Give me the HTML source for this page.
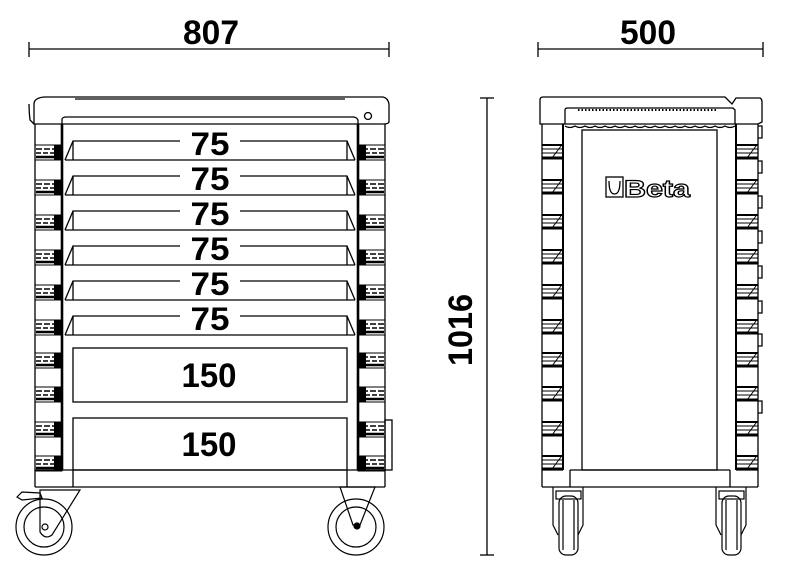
<!DOCTYPE html>
<html><head><meta charset="utf-8"><style>
html,body{margin:0;padding:0;background:#fff;width:800px;height:578px;overflow:hidden}
svg{display:block}
.t{font-family:"Liberation Sans",sans-serif;font-weight:bold;fill:#000}
</style></head><body>
<svg width="800" height="578" viewBox="0 0 800 578" xmlns="http://www.w3.org/2000/svg">
<defs>
 <g id="hl" stroke="#000" fill="none">
  <rect x="0" y="0" width="27" height="15" stroke-width="1"/>
  <line x1="1" y1="4" x2="27" y2="4" stroke-width="1.5" stroke-dasharray="6 2"/>
  <line x1="1" y1="8" x2="27" y2="8" stroke-width="1.5" stroke-dasharray="5 2"/>
  <line x1="1" y1="12" x2="27" y2="12" stroke-width="2.5"/>
  <rect x="19" y="0" width="8" height="15" fill="#000" stroke="none"/>
 </g>
 <g id="hr" transform="translate(27,0) scale(-1,1)"><use href="#hl"/></g>
 <g id="sl" stroke="#000" fill="none">
  <line x1="0" y1="0" x2="21" y2="0" stroke-width="2"/>
  <line x1="0" y1="4" x2="21" y2="4" stroke-width="1"/>
  <line x1="0" y1="8" x2="21" y2="8" stroke-width="1"/>
  <line x1="0" y1="13" x2="21" y2="13" stroke-width="3"/>
  <line x1="10" y1="13" x2="19" y2="1" stroke-width="1"/>
 </g>
</defs>

<g stroke="#000" stroke-width="1.3">
 <line x1="29" y1="49" x2="389" y2="49"/><line x1="29" y1="42" x2="29" y2="57"/><line x1="389" y1="42" x2="389" y2="57"/>
 <line x1="538" y1="49" x2="763" y2="49"/><line x1="538" y1="42" x2="538" y2="57"/><line x1="763" y1="42" x2="763" y2="57"/>
 <line x1="487" y1="98" x2="487" y2="555"/><line x1="480" y1="98" x2="494" y2="98"/><line x1="480" y1="555" x2="494" y2="555"/>
</g>
<text class="t" x="211" y="44" font-size="34" text-anchor="middle" textLength="56" lengthAdjust="spacingAndGlyphs">807</text>
<text class="t" x="648" y="44" font-size="34" text-anchor="middle" textLength="56" lengthAdjust="spacingAndGlyphs">500</text>
<text class="t" transform="translate(472,330) rotate(-90)" font-size="34" text-anchor="middle" textLength="72" lengthAdjust="spacingAndGlyphs">1016</text>

<g stroke="#000" fill="none" stroke-width="1.3">
 <path d="M34 124 L34 104 Q34 98 44 97 L383 97 Q388 98 389 104 L389 122 Q388 124 384 124 Z"/>
 <path d="M29 104 Q29 112 30 120 L34 124"/>
 <line x1="75" y1="99" x2="345" y2="99"/>
 <path d="M62 132 L62 119 Q63 117 66 117 L354 117 Q358 118 358 121 L358 132"/>
 <circle cx="368" cy="116" r="3.5"/>
 <line x1="35" y1="124" x2="35" y2="487" />
 <line x1="385" y1="124" x2="385" y2="487" />
 <line x1="62" y1="124" x2="62" y2="470" stroke-width="2.6"/>
 <line x1="358" y1="124" x2="358" y2="470" stroke-width="2.6"/>
 <line x1="35" y1="470" x2="385" y2="470"/>
 <line x1="35" y1="487" x2="385" y2="487"/>
 <line x1="73" y1="470" x2="73" y2="487"/>
 <line x1="347" y1="470" x2="347" y2="487"/>
 <rect x="385" y="420" width="7" height="50"/>
</g>
<g stroke="#000" fill="none" stroke-width="1.3">
 <path d="M65 160 L73 141 L180 141 M240 141 L347 141 L355 160 M65 160 L355 160"/>
 <path d="M65 195 L73 176 L180 176 M240 176 L347 176 L355 195 M65 195 L355 195"/>
 <path d="M65 230 L73 211 L180 211 M240 211 L347 211 L355 230 M65 230 L355 230"/>
 <path d="M65 265 L73 246 L180 246 M240 246 L347 246 L355 265 M65 265 L355 265"/>
 <path d="M65 300 L73 281 L180 281 M240 281 L347 281 L355 300 M65 300 L355 300"/>
 <path d="M65 335 L73 316 L180 316 M240 316 L347 316 L355 335 M65 335 L355 335"/>
 <line x1="73" y1="141" x2="73" y2="160"/><line x1="347" y1="141" x2="347" y2="160"/>
 <line x1="73" y1="176" x2="73" y2="195"/><line x1="347" y1="176" x2="347" y2="195"/>
 <line x1="73" y1="211" x2="73" y2="230"/><line x1="347" y1="211" x2="347" y2="230"/>
 <line x1="73" y1="246" x2="73" y2="265"/><line x1="347" y1="246" x2="347" y2="265"/>
 <line x1="73" y1="281" x2="73" y2="300"/><line x1="347" y1="281" x2="347" y2="300"/>
 <line x1="73" y1="316" x2="73" y2="335"/><line x1="347" y1="316" x2="347" y2="335"/>
 <rect x="73" y="348" width="274" height="54"/>
 <rect x="73" y="418" width="274" height="52"/>
</g>
<g class="t" text-anchor="middle">
 <g font-size="32">
 <text x="210" y="155" textLength="39" lengthAdjust="spacingAndGlyphs">75</text><text x="210" y="190" textLength="39" lengthAdjust="spacingAndGlyphs">75</text><text x="210" y="225" textLength="39" lengthAdjust="spacingAndGlyphs">75</text>
 <text x="210" y="260" textLength="39" lengthAdjust="spacingAndGlyphs">75</text><text x="210" y="295" textLength="39" lengthAdjust="spacingAndGlyphs">75</text><text x="210" y="330" textLength="39" lengthAdjust="spacingAndGlyphs">75</text>
 </g>
 <g font-size="34">
 <text x="209" y="387" textLength="55" lengthAdjust="spacingAndGlyphs">150</text><text x="209" y="456" textLength="55" lengthAdjust="spacingAndGlyphs">150</text>
 </g>
</g>
<g>
 <use href="#hl" x="35" y="145"/><use href="#hl" x="35" y="180"/><use href="#hl" x="35" y="215"/>
 <use href="#hl" x="35" y="250"/><use href="#hl" x="35" y="285"/><use href="#hl" x="35" y="320"/>
 <use href="#hl" x="35" y="353"/><use href="#hl" x="35" y="387"/><use href="#hl" x="35" y="422"/><use href="#hl" x="35" y="456"/>
 <use href="#hr" x="358" y="145"/><use href="#hr" x="358" y="180"/><use href="#hr" x="358" y="215"/>
 <use href="#hr" x="358" y="250"/><use href="#hr" x="358" y="285"/><use href="#hr" x="358" y="320"/>
 <use href="#hr" x="358" y="353"/><use href="#hr" x="358" y="387"/><use href="#hr" x="358" y="422"/><use href="#hr" x="358" y="456"/>
</g>
<g stroke="#000" fill="none" stroke-width="1.2">
 <circle cx="44" cy="527" r="28"/><circle cx="44" cy="527" r="20"/><circle cx="45" cy="527" r="3"/>
 <path d="M40 490 L80 490 L52 535 Q45 540 40 532 Z"/>
 <path d="M17 497 L22 492 L40 493 L42 498 L22 500 Z"/>
 <circle cx="356" cy="527" r="28"/><circle cx="356" cy="527" r="20"/><circle cx="357" cy="526" r="3" fill="#000"/>
 <path d="M340 487 L375 487 L360 525 L353 525 Z"/>
</g>

<g stroke="#000" fill="none" stroke-width="1.3">
 <path d="M540 124 L540 100 Q540 97 543 97 L725 97 L732 104 L736 98 L760 98 Q762 99 762 102 L762 122 L758 124 Z"/>
 <path d="M565 124 L565 110 Q565 108 568 108 L733 108 L735 110 L735 124"/>
 <line x1="578" y1="110" x2="718" y2="110" stroke-dasharray="1.5 2" stroke-width="2"/>
 <path d="M565 126 Q570 129 575 126 Q580 129 585 126 Q590 129 595 126 Q600 129 605 126 Q610 129 615 126 Q620 129 625 126 Q630 129 635 126 Q640 129 645 126 Q650 129 655 126 Q660 129 665 126 Q670 129 675 126 Q680 129 685 126 Q690 129 695 126 Q700 129 705 126 Q710 129 715 126 Q720 129 725 126 Q730 129 735 126"/>
 <line x1="542" y1="124" x2="542" y2="487"/>
 <line x1="563" y1="124" x2="563" y2="470" stroke-width="2"/>
 <line x1="736" y1="124" x2="736" y2="470" stroke-width="2"/>
 <line x1="758" y1="124" x2="758" y2="487"/>
 <line x1="542" y1="470" x2="563" y2="470"/><line x1="736" y1="470" x2="758" y2="470"/>
 <line x1="542" y1="487" x2="758" y2="487"/>
 <line x1="570" y1="470" x2="730" y2="470"/>
 <line x1="570" y1="470" x2="570" y2="487"/><line x1="730" y1="470" x2="730" y2="487"/>
 <rect x="582" y="130" width="135" height="340"/>
 <path d="M758 126 h4 v12 h-4 M758 161 h4 v12 h-4 M758 196 h4 v12 h-4 M758 231 h4 v12 h-4 M758 266 h4 v12 h-4 M758 301 h4 v12 h-4 M758 334 h4 v12 h-4 M758 401 h4 v12 h-4"/>
 <rect x="606" y="177" width="17" height="20"/>
 <path d="M609 181 Q609 194 614.5 194 Q620 194 620 181"/>
</g>
<text x="624" y="197" font-family="Liberation Sans,sans-serif" font-weight="bold" font-size="24" fill="#fff" stroke="#000" stroke-width="1.2" textLength="66" lengthAdjust="spacingAndGlyphs">Beta</text>
<g>
 <use href="#sl" x="542" y="145"/><use href="#sl" x="542" y="180"/><use href="#sl" x="542" y="215"/>
 <use href="#sl" x="542" y="250"/><use href="#sl" x="542" y="285"/><use href="#sl" x="542" y="320"/>
 <use href="#sl" x="542" y="353"/><use href="#sl" x="542" y="387"/><use href="#sl" x="542" y="422"/><use href="#sl" x="542" y="456"/>
 <use href="#sl" x="737" y="145"/><use href="#sl" x="737" y="180"/><use href="#sl" x="737" y="215"/>
 <use href="#sl" x="737" y="250"/><use href="#sl" x="737" y="285"/><use href="#sl" x="737" y="320"/>
 <use href="#sl" x="737" y="353"/><use href="#sl" x="737" y="387"/><use href="#sl" x="737" y="422"/><use href="#sl" x="737" y="456"/>
</g>
<g stroke="#000" fill="none" stroke-width="1.2">
 <path d="M553 487 L553 525 L558 535 M583 487 L583 525 L578 535"/>
 <rect x="556" y="491" width="25" height="8"/>
 <rect x="559" y="496" width="19" height="59" rx="7"/>
 <line x1="563" y1="500" x2="563" y2="550"/><line x1="574" y1="500" x2="574" y2="550"/>
 <path d="M716 487 L716 525 L721 535 M746 487 L746 525 L741 535"/>
 <rect x="719" y="491" width="25" height="8"/>
 <rect x="722" y="496" width="19" height="59" rx="7"/>
 <line x1="726" y1="500" x2="726" y2="550"/><line x1="737" y1="500" x2="737" y2="550"/>
</g>
</svg>
</body></html>
